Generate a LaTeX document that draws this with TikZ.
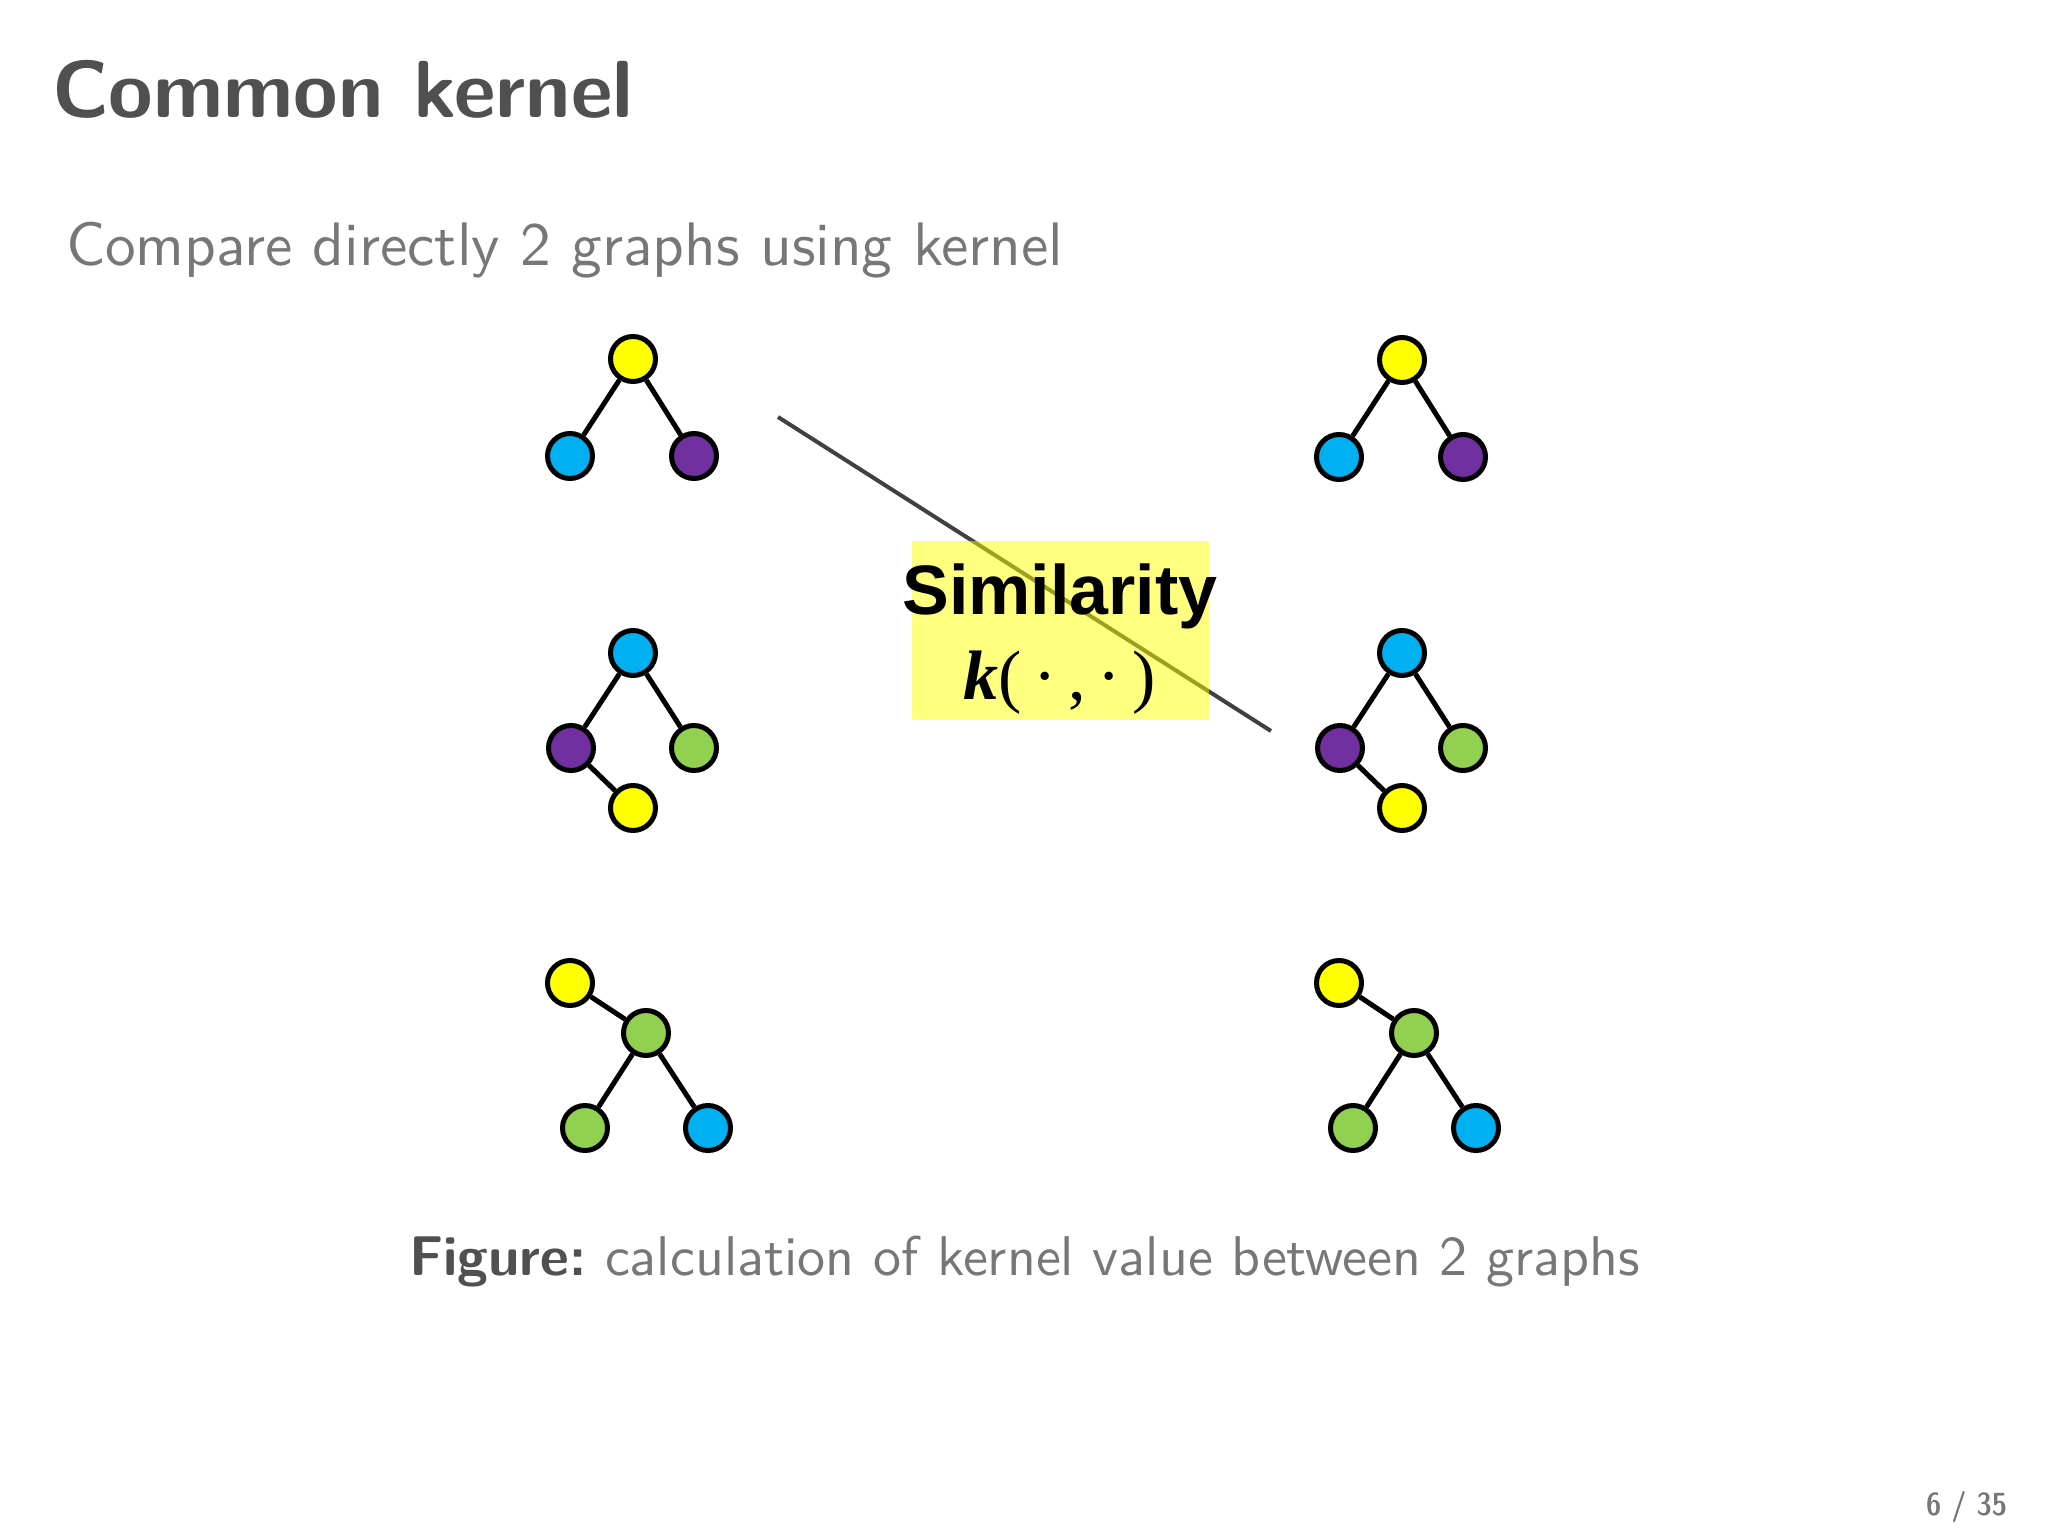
\documentclass[tikz,border=0pt]{standalone}
\usepackage{fontspec}
\newfontfamily\arialfont{Liberation Sans}
\newfontfamily\timesfont{Liberation Serif}
\newfontfamily\lmsten{lmsans10-regular.otf}[BoldFont=lmsansdemicond10-regular.otf]
\definecolor{nyellow}{HTML}{FFFF00}
\definecolor{nblue}{HTML}{00B0F0}
\definecolor{npurple}{HTML}{7030A0}
\definecolor{ngreen}{HTML}{92D050}
\definecolor{titlegray}{HTML}{505050}
\definecolor{textgray}{HTML}{777777}
\definecolor{linegray}{HTML}{404040}
\tikzset{
  vtx/.style={circle, draw=black, line width=5pt, minimum size=45pt, inner sep=0pt},
  vy/.style={vtx, fill=nyellow},
  vb/.style={vtx, fill=nblue},
  vp/.style={vtx, fill=npurple},
  vg/.style={vtx, fill=ngreen},
  edge/.style={draw=black, line width=5pt},
  txt/.style={anchor=base west, inner sep=0pt, outer sep=0pt},
}
\begin{document}
\begin{tikzpicture}[x=1pt, y=-1pt]
\useasboundingbox (0,0) rectangle (2048,1536);
\fill[white] (0,0) rectangle (2048,1536);
% title
\node[txt, text=titlegray] (title) at (52,118) {\sffamily\bfseries\fontsize{81}{96}\selectfont Common kernel};
\node[txt, text=textgray] (sub) at (66,265) {\lmsten\fontsize{61.4}{74}\selectfont Compare directly 2 graphs using kernel};
% left graph 1
\node[vy] (l1a) at (633,359) {};
\node[vb] (l1b) at (570,456) {};
\node[vp] (l1c) at (694,456) {};
\draw[edge] (l1a) -- (l1b); \draw[edge] (l1a) -- (l1c);
% right graph 1
\node[vy] (r1a) at (1402,360) {};
\node[vb] (r1b) at (1339,457) {};
\node[vp] (r1c) at (1463,457) {};
\draw[edge] (r1a) -- (r1b); \draw[edge] (r1a) -- (r1c);
% left graph 2
\node[vb] (l2a) at (633,653) {};
\node[vp] (l2b) at (571,748) {};
\node[vg] (l2c) at (694,748) {};
\node[vy] (l2d) at (633,808) {};
\draw[edge] (l2a) -- (l2b); \draw[edge] (l2a) -- (l2c); \draw[edge] (l2b) -- (l2d);
% right graph 2
\node[vb] (r2a) at (1402,653) {};
\node[vp] (r2b) at (1340,748) {};
\node[vg] (r2c) at (1463,748) {};
\node[vy] (r2d) at (1402,808) {};
\draw[edge] (r2a) -- (r2b); \draw[edge] (r2a) -- (r2c); \draw[edge] (r2b) -- (r2d);
% left graph 3
\node[vy] (l3a) at (570,983) {};
\node[vg] (l3b) at (646,1033) {};
\node[vg] (l3c) at (585,1128) {};
\node[vb] (l3d) at (708,1128) {};
\draw[edge] (l3a) -- (l3b); \draw[edge] (l3b) -- (l3c); \draw[edge] (l3b) -- (l3d);
% right graph 3
\node[vy] (r3a) at (1339,983) {};
\node[vg] (r3b) at (1414,1033) {};
\node[vg] (r3c) at (1353,1128) {};
\node[vb] (r3d) at (1476,1128) {};
\draw[edge] (r3a) -- (r3b); \draw[edge] (r3b) -- (r3c); \draw[edge] (r3b) -- (r3d);
% similarity line
\coordinate (ls) at (778,417);
\coordinate (le) at (1271,731);
\draw[linegray, line width=4pt] (ls) -- (le);
\node[fill=nyellow, fill opacity=0.5, minimum width=297pt, minimum height=179pt, inner sep=0pt] (simbox) at (1060.5,630.5) {};
\node[anchor=base, inner sep=0pt] (simtxt) at (1060,614) {\arialfont\bfseries\fontsize{70}{80}\selectfont Similarity};
\node[anchor=base, inner sep=0pt] (kfun) at (1060,699) {\timesfont\fontsize{70}{80}\selectfont{\bfseries\itshape k}(\,·\,,\,·\,)};
% caption
\node[txt] (cap) at (409,1275) {{\sffamily\bfseries\fontsize{56}{66}\selectfont\color{titlegray}Figure:}{\lmsten\fontsize{56}{66}\selectfont\color{textgray}\ calculation of kernel value between 2 graphs}};
% page number
\node[txt, text=textgray] (pg) at (1926,1515) {\lmsten\bfseries\fontsize{32}{38}\selectfont 6 / 35};
\end{tikzpicture}
\end{document}
